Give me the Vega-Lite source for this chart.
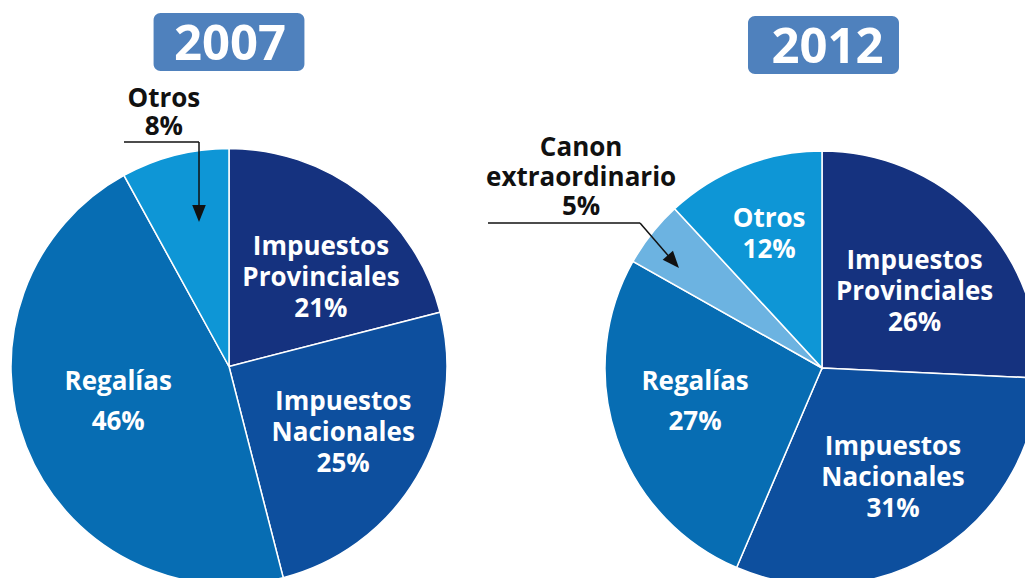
{
  "$schema": "https://vega.github.io/schema/vega-lite/v6.json",
  "padding": 0,
  "spacing": 0,
  "background": "white",
  "config": {"view": {"stroke": null}, "font": "Open Sans"},
  "resolve": {"scale": {"x": "independent", "y": "independent", "theta": "independent", "color": "independent"}},
  "datasets": {
    "y2007": [
      {"categoria": "Impuestos Provinciales", "pct": 21, "orden": 1, "texto": "Impuestos\nProvinciales\n21%"},
      {"categoria": "Impuestos Nacionales", "pct": 25, "orden": 2, "texto": "Impuestos\nNacionales\n25%"},
      {"categoria": "Regalías", "pct": 46, "orden": 3, "texto": "Regalías\n46%"},
      {"categoria": "Otros", "pct": 8, "orden": 4, "texto": "Otros\n8%"}
    ],
    "y2012": [
      {"categoria": "Impuestos Provinciales", "pct": 26, "orden": 1, "texto": "Impuestos\nProvinciales\n26%"},
      {"categoria": "Impuestos Nacionales", "pct": 31, "orden": 2, "texto": "Impuestos\nNacionales\n31%"},
      {"categoria": "Regalías", "pct": 27, "orden": 3, "texto": "Regalías\n27%"},
      {"categoria": "Canon extraordinario", "pct": 5, "orden": 4, "texto": "Canon\nextraordinario\n5%"},
      {"categoria": "Otros", "pct": 12, "orden": 5, "texto": "Otros\n12%"}
    ]
  },
  "hconcat": [
    {
      "width": 458,
      "height": 578,
      "data": {"name": "y2007"},
      "layer": [
        {
          "data": {"values": [{}]},
          "mark": {"type": "rect", "fill": "#4F81BD", "cornerRadius": 7},
          "encoding": {
            "x": {"datum": -34.6, "type": "quantitative", "scale": {"domain": [-105.05, 105.05], "nice": false, "zero": false}, "axis": null},
            "x2": {"datum": 34.6},
            "y": {"datum": 162.2, "type": "quantitative", "scale": {"domain": [-97.02, 168.12], "nice": false, "zero": false}, "axis": null},
            "y2": {"datum": 135.5}
          }
        },
        {
          "data": {"values": [{}]},
          "mark": {"type": "text", "text": "2007", "font": "Open Sans", "fontWeight": "bold", "fontSize": 49, "fill": "white", "align": "center", "baseline": "alphabetic"},
          "encoding": {
            "x": {"datum": 0.5, "type": "quantitative", "scale": {"domain": [-105.05, 105.05], "nice": false, "zero": false}, "axis": null},
            "y": {"datum": 140.6, "type": "quantitative", "scale": {"domain": [-97.02, 168.12], "nice": false, "zero": false}, "axis": null}
          }
        },
        {
          "encoding": {
            "theta": {"field": "pct", "type": "quantitative", "stack": true},
            "order": {"field": "orden", "type": "quantitative"},
            "x": {"datum": 0, "type": "quantitative", "scale": {"domain": [-105.05, 105.05], "nice": false, "zero": false}, "axis": null},
            "y": {"datum": 0, "type": "quantitative", "scale": {"domain": [-97.02, 168.12], "nice": false, "zero": false}, "axis": null}
          },
          "layer": [
            {
              "mark": {"type": "arc", "outerRadius": 218, "stroke": "white", "strokeWidth": 1.5, "clip": true},
              "encoding": {
                "color": {"field": "categoria", "type": "nominal", "legend": null, "scale": {"domain": ["Impuestos Provinciales", "Impuestos Nacionales", "Regalías", "Canon extraordinario", "Otros"], "range": ["#15327F", "#0D4F9E", "#076DB3", "#6CB3E1", "#0E96D6"]}}
              }
            },
            {
              "mark": {"type": "text", "clip": true, "radius": 128, "dx": 13.5, "dy": -18.4, "font": "Open Sans", "fontSize": 26, "fontWeight": "bold", "fill": "white", "lineBreak": "\n", "lineHeight": 31, "align": "center", "baseline": "middle"},
              "encoding": {"text": {"condition": {"test": "datum.categoria === 'Impuestos Provinciales'", "field": "texto"}, "value": ""}}
            },
            {
              "mark": {"type": "text", "clip": true, "radius": 128, "dx": 4, "dy": -30, "font": "Open Sans", "fontSize": 26, "fontWeight": "bold", "fill": "white", "lineBreak": "\n", "lineHeight": 31, "align": "center", "baseline": "middle"},
              "encoding": {"text": {"condition": {"test": "datum.categoria === 'Impuestos Nacionales'", "field": "texto"}, "value": ""}}
            },
            {
              "mark": {"type": "text", "clip": true, "radius": 117, "dx": -2, "dy": -28, "font": "Open Sans", "fontSize": 26, "fontWeight": "bold", "fill": "white", "lineBreak": "\n", "lineHeight": 40, "align": "center", "baseline": "middle"},
              "encoding": {"text": {"condition": {"test": "datum.categoria === 'Regalías'", "field": "texto"}, "value": ""}}
            },
            {
              "mark": {"type": "text", "clip": true, "radius": 262, "dy": -14, "font": "Open Sans", "fontSize": 26, "fontWeight": "bold", "fill": "#111111", "lineBreak": "\n", "lineHeight": 28, "align": "center", "baseline": "middle"},
              "encoding": {"text": {"condition": {"test": "datum.categoria === 'Otros'", "field": "texto"}, "value": ""}}
            }
          ]
        },
        {
          "data": {"values": [{}]},
          "mark": {"type": "rule", "stroke": "#111111", "strokeWidth": 1.5},
          "encoding": {
            "x": {"datum": -48.17, "type": "quantitative", "scale": {"domain": [-105.05, 105.05], "nice": false, "zero": false}, "axis": null},
            "x2": {"datum": -13.76},
            "y": {"datum": 102.98, "type": "quantitative", "scale": {"domain": [-97.02, 168.12], "nice": false, "zero": false}, "axis": null},
            "y2": {"datum": 102.98}
          }
        },
        {
          "data": {"values": [{}]},
          "mark": {"type": "rule", "stroke": "#111111", "strokeWidth": 1.5},
          "encoding": {
            "x": {"datum": -13.76, "type": "quantitative", "scale": {"domain": [-105.05, 105.05], "nice": false, "zero": false}, "axis": null},
            "x2": {"datum": -13.76},
            "y": {"datum": 102.98, "type": "quantitative", "scale": {"domain": [-97.02, 168.12], "nice": false, "zero": false}, "axis": null},
            "y2": {"datum": 71}
          }
        },
        {
          "data": {"values": [{}]},
          "mark": {"type": "point", "shape": "M-0.8,-1L0.8,-1L0,1Z", "size": 289, "filled": true, "fill": "#111111", "opacity": 1, "strokeWidth": 0},
          "encoding": {
            "x": {"datum": -13.76, "type": "quantitative", "scale": {"domain": [-105.05, 105.05], "nice": false, "zero": false}, "axis": null},
            "y": {"datum": 70.18, "type": "quantitative", "scale": {"domain": [-97.02, 168.12], "nice": false, "zero": false}, "axis": null}
          }
        }
      ]
    },
    {
      "width": 567,
      "height": 578,
      "data": {"name": "y2012"},
      "layer": [
        {
          "data": {"values": [{}]},
          "mark": {"type": "rect", "fill": "#4F81BD", "cornerRadius": 7},
          "encoding": {
            "x": {"datum": -34.1, "type": "quantitative", "scale": {"domain": [-167.74, 93.55], "nice": false, "zero": false}, "axis": null},
            "x2": {"datum": 35.48},
            "y": {"datum": 162.21, "type": "quantitative", "scale": {"domain": [-96.77, 169.59], "nice": false, "zero": false}, "axis": null},
            "y2": {"datum": 135.48}
          }
        },
        {
          "data": {"values": [{}]},
          "mark": {"type": "text", "text": "2012", "font": "Open Sans", "fontWeight": "bold", "fontSize": 49, "fill": "white", "align": "center", "baseline": "alphabetic"},
          "encoding": {
            "x": {"datum": 2.53, "type": "quantitative", "scale": {"domain": [-167.74, 93.55], "nice": false, "zero": false}, "axis": null},
            "y": {"datum": 140.69, "type": "quantitative", "scale": {"domain": [-96.77, 169.59], "nice": false, "zero": false}, "axis": null}
          }
        },
        {
          "encoding": {
            "theta": {"field": "pct", "type": "quantitative", "stack": true},
            "order": {"field": "orden", "type": "quantitative"},
            "x": {"datum": 0, "type": "quantitative", "scale": {"domain": [-167.74, 93.55], "nice": false, "zero": false}, "axis": null},
            "y": {"datum": 0, "type": "quantitative", "scale": {"domain": [-96.77, 169.59], "nice": false, "zero": false}, "axis": null}
          },
          "layer": [
            {
              "mark": {"type": "arc", "outerRadius": 217, "stroke": "white", "strokeWidth": 1.5, "clip": true},
              "encoding": {
                "color": {"field": "categoria", "type": "nominal", "legend": null, "scale": {"domain": ["Impuestos Provinciales", "Impuestos Nacionales", "Regalías", "Canon extraordinario", "Otros"], "range": ["#15327F", "#0D4F9E", "#076DB3", "#6CB3E1", "#0E96D6"]}}
              }
            },
            {
              "mark": {"type": "text", "clip": true, "radius": 128, "dy": -18.4, "font": "Open Sans", "fontSize": 26, "fontWeight": "bold", "fill": "white", "lineBreak": "\n", "lineHeight": 31, "align": "center", "baseline": "middle"},
              "encoding": {"text": {"condition": {"test": "datum.categoria === 'Impuestos Provinciales'", "field": "texto"}, "value": ""}}
            },
            {
              "mark": {"type": "text", "clip": true, "radius": 128, "dx": 3, "dy": -29.6, "font": "Open Sans", "fontSize": 26, "fontWeight": "bold", "fill": "white", "lineBreak": "\n", "lineHeight": 31, "align": "center", "baseline": "middle"},
              "encoding": {"text": {"condition": {"test": "datum.categoria === 'Impuestos Nacionales'", "field": "texto"}, "value": ""}}
            },
            {
              "mark": {"type": "text", "clip": true, "radius": 134, "dy": -29, "font": "Open Sans", "fontSize": 26, "fontWeight": "bold", "fill": "white", "lineBreak": "\n", "lineHeight": 40, "align": "center", "baseline": "middle"},
              "encoding": {"text": {"condition": {"test": "datum.categoria === 'Regalías'", "field": "texto"}, "value": ""}}
            },
            {
              "mark": {"type": "text", "clip": true, "radius": 145, "dy": -13.5, "font": "Open Sans", "fontSize": 26, "fontWeight": "bold", "fill": "white", "lineBreak": "\n", "lineHeight": 31, "align": "center", "baseline": "middle"},
              "encoding": {"text": {"condition": {"test": "datum.categoria === 'Otros'", "field": "texto"}, "value": ""}}
            },
            {
              "mark": {"type": "text", "clip": true, "radius": 307, "dy": -29.5, "font": "Open Sans", "fontSize": 26, "fontWeight": "bold", "fill": "#111111", "lineBreak": "\n", "lineHeight": 29.5, "align": "center", "baseline": "middle"},
              "encoding": {"text": {"condition": {"test": "datum.categoria === 'Canon extraordinario'", "field": "texto"}, "value": ""}}
            }
          ]
        },
        {
          "data": {"values": [{}]},
          "mark": {"type": "rule", "stroke": "#111111", "strokeWidth": 1.5},
          "encoding": {
            "x": {"datum": -153.92, "type": "quantitative", "scale": {"domain": [-167.74, 93.55], "nice": false, "zero": false}, "axis": null},
            "x2": {"datum": -83.87},
            "y": {"datum": 66.82, "type": "quantitative", "scale": {"domain": [-96.77, 169.59], "nice": false, "zero": false}, "axis": null},
            "y2": {"datum": 66.82}
          }
        },
        {
          "data": {"values": [{}]},
          "mark": {"type": "rule", "stroke": "#111111", "strokeWidth": 1.5},
          "encoding": {
            "x": {"datum": -83.87, "type": "quantitative", "scale": {"domain": [-167.74, 93.55], "nice": false, "zero": false}, "axis": null},
            "x2": {"datum": -69.5},
            "y": {"datum": 66.82, "type": "quantitative", "scale": {"domain": [-96.77, 169.59], "nice": false, "zero": false}, "axis": null},
            "y2": {"datum": 50.2}
          }
        },
        {
          "data": {"values": [{}]},
          "mark": {"type": "point", "shape": "M-0.8,-1L0.8,-1L0,1Z", "size": 289, "filled": true, "fill": "#111111", "opacity": 1, "strokeWidth": 0, "angle": -40.9},
          "encoding": {
            "x": {"datum": -68.48, "type": "quantitative", "scale": {"domain": [-167.74, 93.55], "nice": false, "zero": false}, "axis": null},
            "y": {"datum": 49.03, "type": "quantitative", "scale": {"domain": [-96.77, 169.59], "nice": false, "zero": false}, "axis": null}
          }
        }
      ]
    }
  ]
}
